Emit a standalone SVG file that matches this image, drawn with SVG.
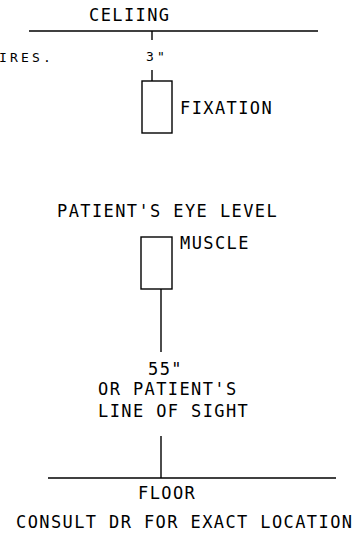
<svg xmlns="http://www.w3.org/2000/svg" width="360" height="540" viewBox="0 0 360 540">
<style>
.t{font-family:"DejaVu Sans Mono","Liberation Mono",monospace;font-size:17px;letter-spacing:1.4px;fill:#000}
.s{font-family:"DejaVu Sans Mono","Liberation Mono",monospace;font-size:13px;letter-spacing:3.2px;fill:#000}
.ln{stroke:#000;stroke-width:1.4;fill:none}
</style>
<rect width="360" height="540" fill="#fff"/>
<g id="connectors">
<line class="ln" x1="29" y1="31" x2="318" y2="31"/>
<line class="ln" x1="152" y1="31" x2="152" y2="40"/>
<line class="ln" x1="152" y1="70" x2="152" y2="81"/>
<line class="ln" x1="161" y1="289" x2="161" y2="352"/>
<line class="ln" x1="161" y1="436" x2="161" y2="478"/>
<line class="ln" x1="48" y1="478" x2="336" y2="478"/>
</g>
<g id="ceiling"><text class="t" x="89" y="21">CELIING</text></g>
<g id="wires"><text class="s" x="-1" y="62">IRES.</text></g>
<g id="dim3"><text class="s" x="146" y="61">3"</text></g>
<g id="fixation"><rect class="ln" x="142" y="81" width="30" height="52"/><text class="t" x="180" y="114">FIXATION</text></g>
<g id="eyelevel"><text class="t" x="57" y="217">PATIENT'S EYE LEVEL</text></g>
<g id="muscle"><rect class="ln" x="141" y="237" width="31" height="52"/><text class="t" x="180" y="249">MUSCLE</text></g>
<g id="dim55"><text class="t" x="148" y="375">55"</text><text class="t" x="98" y="395">OR PATIENT'S</text><text class="t" x="98" y="417">LINE OF SIGHT</text></g>
<g id="floor"><text class="t" x="138" y="499">FLOOR</text></g>
<g id="note"><text class="t" x="16" y="528">CONSULT DR FOR EXACT LOCATION</text></g>
</svg>
